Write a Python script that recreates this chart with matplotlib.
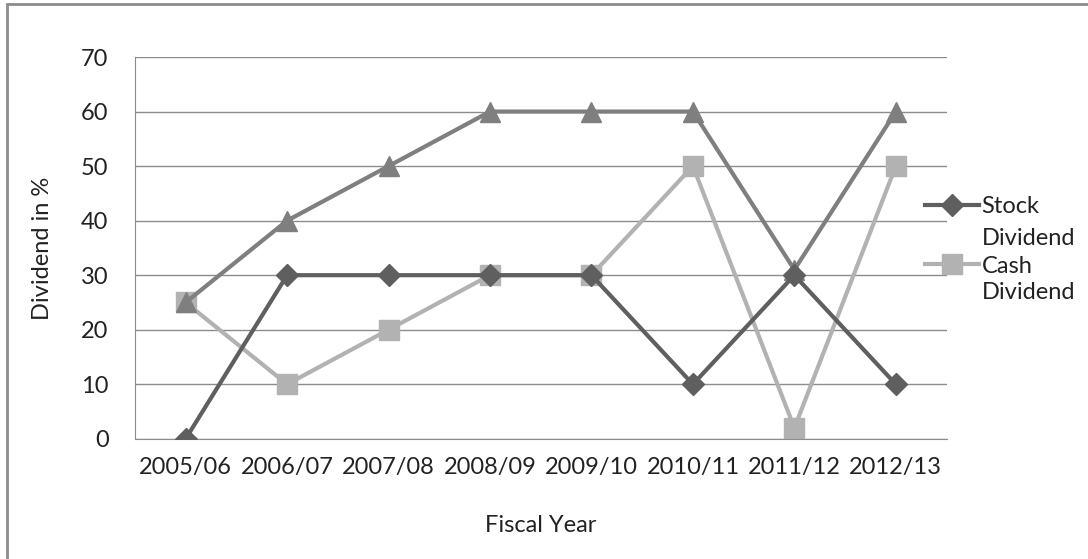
import numpy as np
import matplotlib
matplotlib.use("Agg")
import matplotlib.pyplot as plt
from matplotlib.patches import Rectangle

plt.rcParams["font.family"] = ["Lato", "DejaVu Sans"]

YEARS = ["2005/06", "2006/07", "2007/08", "2008/09",
         "2009/10", "2010/11", "2011/12", "2012/13"]
STOCK = [0, 30, 30, 30, 30, 10, 30, 10]
CASH = [25, 10, 20, 30, 30, 50, 2, 50]
TOTAL = [25, 40, 50, 60, 60, 60, 31, 60]

FS = 17
TXT = "#222222"

fig = plt.figure(figsize=(10.88, 5.59), dpi=100)
ax = fig.add_axes([0.124, 0.215, 0.746, 0.683])

x = np.arange(len(YEARS))
ax.plot(x, TOTAL, color="#7f7f7f", lw=3, marker="^", ms=15, zorder=3)
ax.plot(x, STOCK, color="#5f5f5f", lw=3, marker="D", ms=11,
        label="Stock", zorder=4)
ax.plot(x, CASH, color="#b2b2b2", lw=3, marker="s", ms=14,
        label="Cash", zorder=2)

ax.set_xlim(-0.5, len(YEARS) - 0.5)
ax.set_ylim(0, 70)
ax.set_yticks(range(0, 71, 10))
ax.set_xticks(x)
ax.set_xticklabels(YEARS)
ax.tick_params(length=0, labelsize=FS, colors=TXT)
ax.tick_params(axis="x", pad=13)
ax.tick_params(axis="y", pad=19)
ax.grid(axis="y", color="#8c8c8c", lw=1)
ax.set_axisbelow(True)
for side in ["top", "right"]:
    ax.spines[side].set_visible(False)
for side in ["left", "bottom"]:
    ax.spines[side].set_color("#8c8c8c")

ax.set_xlabel("Fiscal Year", fontsize=FS, color=TXT, labelpad=27)
ax.set_ylabel("Dividend in %", fontsize=FS, color=TXT, labelpad=20)

# legend entries sit on the first line of a two-line label
leg = fig.legend(loc="upper left", bbox_to_anchor=(0.850, 0.649),
                 frameon=False, fontsize=FS, handlelength=2.3,
                 handletextpad=0.1, labelspacing=1.63, borderpad=0,
                 borderaxespad=0)
for t in leg.get_texts():
    t.set_color(TXT)
for yy in [0.574, 0.476]:
    fig.text(0.9026, yy, "Dividend", fontsize=FS, color=TXT,
             ha="left", va="center")

fig.patches.append(Rectangle((0.0065, -0.02), 1.1, 1.013,
                             transform=fig.transFigure, fill=False,
                             edgecolor="#8c8c8c", lw=2))

fig.savefig("out.png", dpi=100)
